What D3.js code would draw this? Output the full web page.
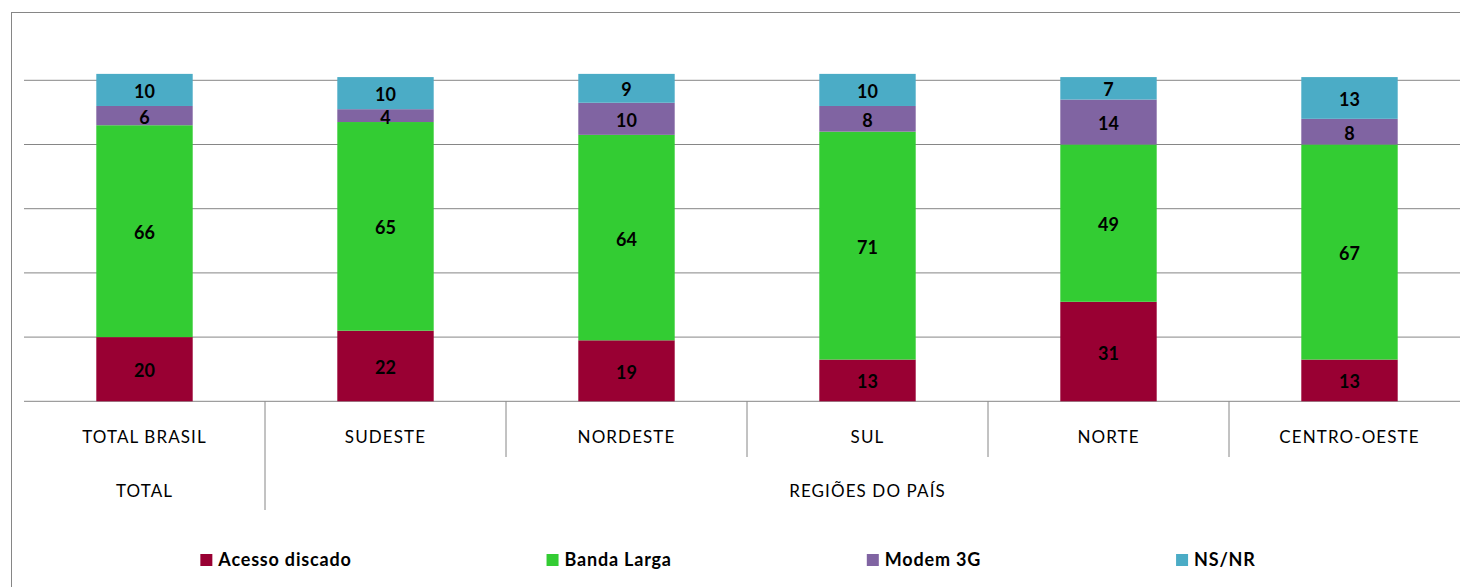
<!DOCTYPE html>
<html>
<head>
<meta charset="utf-8">
<script src="https://cdn.jsdelivr.net/npm/d3@7"></script>
<style>
  body { margin: 0; background: #fff; }
  svg { display: block; font-family: Lato, "Open Sans", sans-serif; }
  .cat { font-size: 17px; fill: #000; letter-spacing: 1.1px; }
  .val { font-size: 18px; font-weight: bold; fill: #000; }
  .leg { font-size: 18px; font-weight: bold; fill: #000; letter-spacing: 0.8px; }
</style>
</head>
<body>
<svg id="chart" width="1460" height="587"></svg>
<script>
var categories = ["TOTAL BRASIL", "SUDESTE", "NORDESTE", "SUL", "NORTE", "CENTRO-OESTE"];
var groups = ["TOTAL", "REGIÕES DO PAÍS"];
var seriesNames = ["Acesso discado", "Banda Larga", "Modem 3G", "NS/NR"];
var seriesColors = ["#990033", "#33cc33", "#8064a2", "#4bacc6"];

var acessoDiscado = [20, 22, 19, 13, 31, 13];
var bandaLarga = [66, 65, 64, 71, 49, 67];
var modem3G = [6, 4, 10, 8, 14, 8];
var nsNr = [10, 10, 9, 10, 7, 13];

var yTicks = [0, 20, 40, 60, 80, 100];

var svg = d3.select("#chart");
var width = 1460, height = 587;

var plotLeft = 24, plotRight = 1470;
var plotTop = 80.3, plotBottom = 401.3;

var x = d3.scaleBand()
  .domain(categories)
  .range([plotLeft, plotRight])
  .paddingInner(0.6)
  .paddingOuter(0.3);

var y = d3.scaleLinear().domain([0, 100]).range([plotBottom, plotTop]);

// outer frame
svg.append("rect")
  .attr("x", 11.5).attr("y", 12.5)
  .attr("width", width).attr("height", height)
  .attr("fill", "none").attr("stroke", "#868686").attr("stroke-width", 1);

// gridlines
svg.append("g").selectAll("line")
  .data(yTicks)
  .enter()
  .append("line")
    .attr("x1", plotLeft).attr("x2", plotRight)
    .attr("y1", function(d) { return y(d); })
    .attr("y2", function(d) { return y(d); })
    .attr("stroke", "#868686").attr("stroke-width", 1);

// stacked data
var rows = categories.map(function(c, i) {
  return { cat: c, s0: acessoDiscado[i], s1: bandaLarga[i], s2: modem3G[i], s3: nsNr[i] };
});
var stack = d3.stack().keys(["s0", "s1", "s2", "s3"]);
var layers = stack(rows);

var layer = svg.selectAll(".layer")
  .data(layers)
  .enter()
  .append("g")
    .attr("class", "layer")
    .attr("fill", function(d, i) { return seriesColors[i]; });

layer.selectAll("rect")
  .data(function(d) { return d; })
  .enter()
  .append("rect")
    .attr("x", function(d) { return x(d.data.cat); })
    .attr("width", x.bandwidth())
    .attr("y", function(d) { return y(d[1]); })
    .attr("height", function(d) { return y(d[0]) - y(d[1]); });

layer.selectAll("text")
  .data(function(d) { return d; })
  .enter()
  .append("text")
    .attr("class", "val")
    .attr("text-anchor", "middle")
    .attr("dominant-baseline", "central")
    .attr("x", function(d) { return x(d.data.cat) + x.bandwidth() / 2; })
    .attr("y", function(d) { return (y(d[0]) + y(d[1])) / 2 + 1; })
    .text(function(d) { return d[1] - d[0]; });

// category axis
var step = x.step();
svg.append("g").selectAll("text")
  .data(categories)
  .enter()
  .append("text")
    .attr("class", "cat")
    .attr("text-anchor", "middle")
    .attr("x", function(d) { return x(d) + x.bandwidth() / 2; })
    .attr("y", 443)
    .text(function(d) { return d; });

// separators between categories
svg.append("g").selectAll("line")
  .data(categories.slice(1))
  .enter()
  .append("line")
    .attr("x1", function(d) { return x(d) + x.bandwidth() / 2 - step / 2; })
    .attr("x2", function(d) { return x(d) + x.bandwidth() / 2 - step / 2; })
    .attr("y1", plotBottom)
    .attr("y2", function(d, i) { return i == 0 ? 510 : 457; })
    .attr("stroke", "#868686").attr("stroke-width", 1);

// group labels
var firstCenter = x(categories[0]) + x.bandwidth() / 2;
var regionCenter = (x(categories[1]) + x(categories[5]) + x.bandwidth()) / 2;
svg.append("text").attr("class", "cat").attr("text-anchor", "middle")
  .attr("x", firstCenter).attr("y", 497).text(groups[0]);
svg.append("text").attr("class", "cat").attr("text-anchor", "middle")
  .attr("x", regionCenter).attr("y", 497).text(groups[1]);

// legend
var legend = svg.append("g");
var items = legend.selectAll("g")
  .data(seriesNames)
  .enter()
  .append("g");

items.append("rect")
  .attr("width", 12).attr("height", 12)
  .attr("y", -12)
  .attr("fill", function(d, i) { return seriesColors[i]; });

items.append("text")
  .attr("class", "leg")
  .attr("x", 18)
  .text(function(d) { return d; });

var gap = 195;
var offset = 0;
items.each(function() {
  var w = d3.select(this).select("text").node().getComputedTextLength() + 18;
  d3.select(this).attr("data-x", offset);
  offset += w + gap;
});
var totalW = offset - gap;
var legendStart = 728 - totalW / 2;
items.attr("transform", function() {
  return "translate(" + (legendStart + (+d3.select(this).attr("data-x"))) + ",566)";
});
</script>
</body>
</html>
